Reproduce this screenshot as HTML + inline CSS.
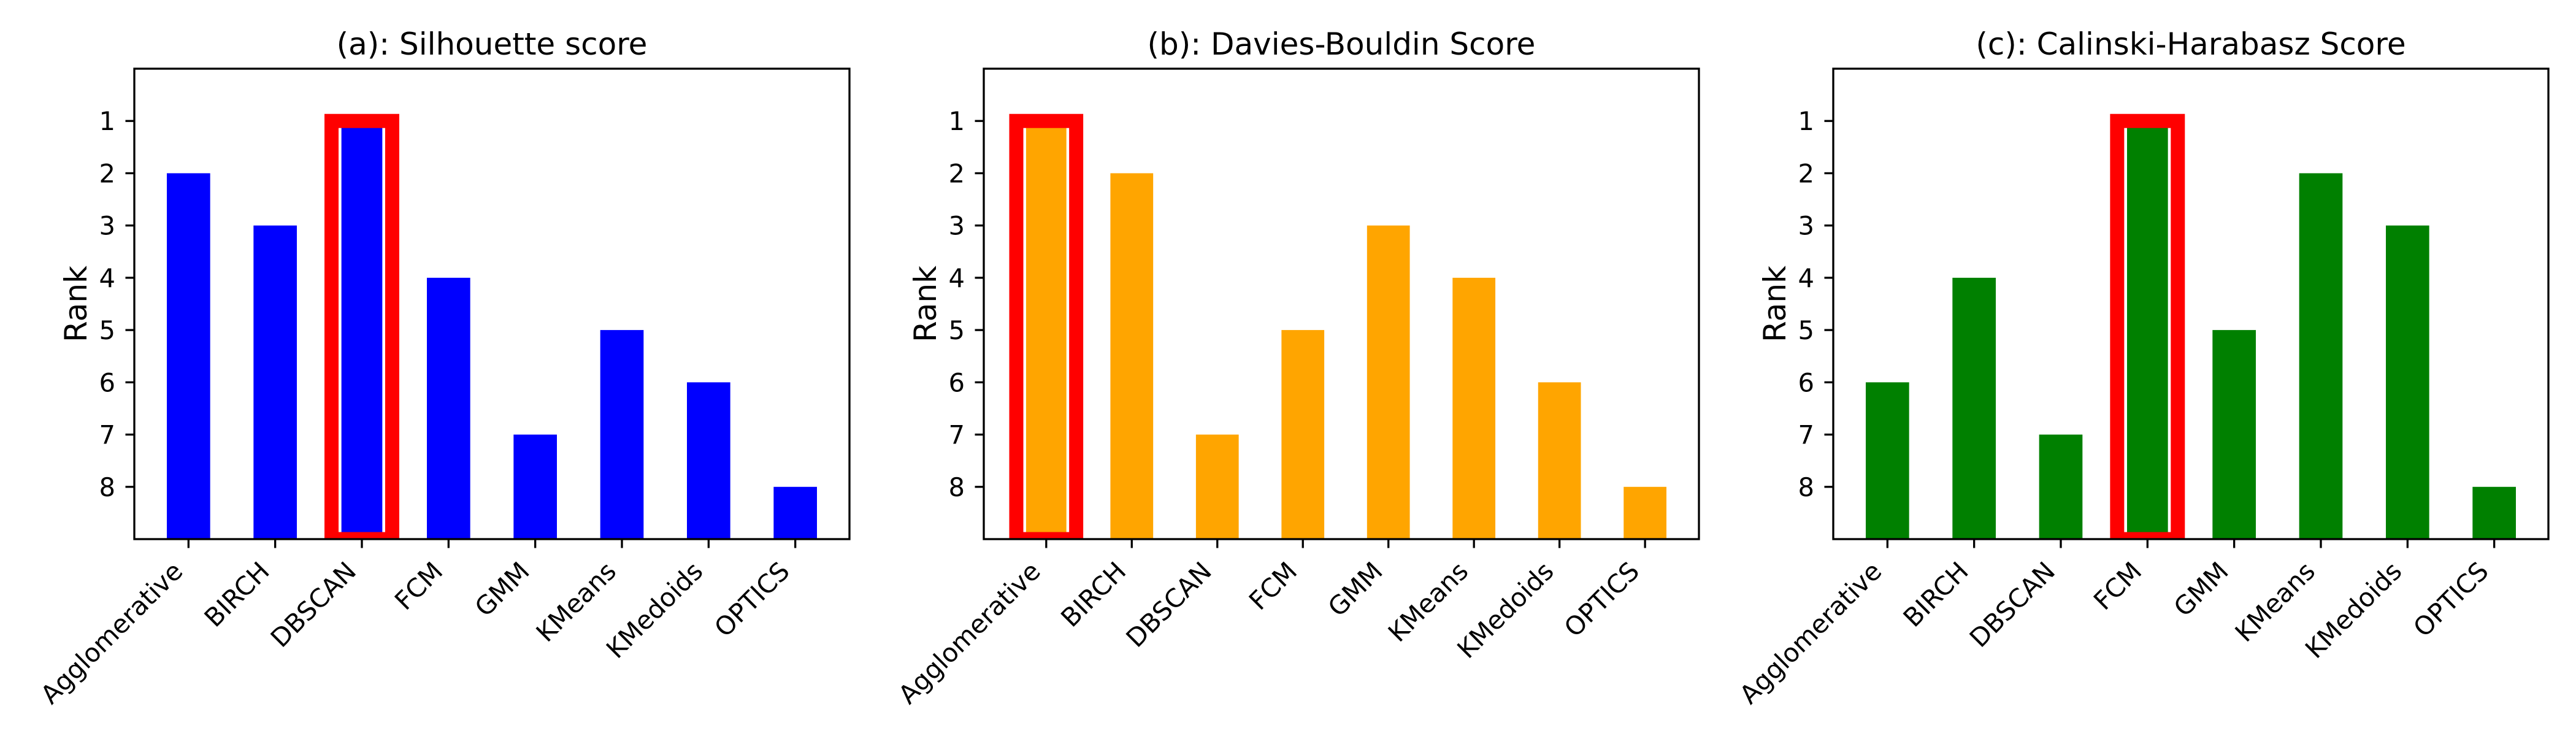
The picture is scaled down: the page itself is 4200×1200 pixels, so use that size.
<!DOCTYPE html>
<html><head><meta charset="utf-8">
<style>
html,body{margin:0;padding:0;background:#fff;}
svg{display:block;}
text{font-family:"DejaVu Sans","Liberation Sans",sans-serif;fill:#000;}
</style></head>
<body>
<svg id="chart" width="4200" height="1200" viewBox="0 0 4200 1200" xmlns="http://www.w3.org/2000/svg"></svg>
<script>
const categories = ["Agglomerative","BIRCH","DBSCAN","FCM","GMM","KMeans","KMedoids","OPTICS"];
const silhouetteRanks = [2,3,1,4,7,5,6,8];
const daviesBouldinRanks = [1,2,7,5,3,4,6,8];
const calinskiRanks = [6,4,7,1,5,2,3,8];
const yTickLabels = [1,2,3,4,5,6,7,8];
const panelTitles = ["(a): Silhouette score","(b): Davies-Bouldin Score","(c): Calinski-Harabasz Score"];
const panelColors = ["#0000ff","#ffa500","#008000"];
const highlightIndex = [2,0,3];

const NS = "http://www.w3.org/2000/svg";
const svg = document.getElementById('chart');
function mk(tag, attrs, parent){
  const e = document.createElementNS(NS, tag);
  for (const k in attrs) e.setAttribute(k, attrs[k]);
  (parent||svg).appendChild(e);
  return e;
}
const AX_TOP = 112, AX_BOT = 879, AX_W = 1166, PANEL_STEP = 1385, AX_LEFT0 = 219;
const YMIN = 0, YMAX = 9;
function yScale(v){ return AX_TOP + (v - YMIN) / (YMAX - YMIN) * (AX_BOT - AX_TOP); }

const allRanks = [silhouetteRanks, daviesBouldinRanks, calinskiRanks];
const panelNames = ['silhouette','davies-bouldin','calinski-harabasz'];

allRanks.forEach((ranks, p) => {
  const left = AX_LEFT0 + p * PANEL_STEP, right = left + AX_W;
  const hi = highlightIndex[p];
  let dmin = Math.min(-0.25, hi - 0.35), dmax = Math.max(categories.length - 0.75, hi + 0.35);
  const m = 0.05 * (dmax - dmin);
  const xmin = dmin - m, xmax = dmax + m;
  const xScale = v => left + (v - xmin) / (xmax - xmin) * AX_W;
  const unit = AX_W / (xmax - xmin);

  const g = mk('g', {});
  
  

  const clipId = 'clip' + p;
  const cp = mk('clipPath', {id: clipId}, g);
  mk('rect', {x: left, y: AX_TOP, width: AX_W, height: AX_BOT - AX_TOP}, cp);

  const bars = mk('g', {'clip-path': 'url(#' + clipId + ')'}, g);
  
  
  ranks.forEach((r, i) => {
    const x0 = xScale(i - 0.25), x1 = xScale(i + 0.25);
    const b = mk('rect', {x: x0, y: yScale(r), width: x1 - x0, height: yScale(YMAX) - yScale(r), fill: panelColors[p]}, bars);
    if (i === hi) { b.setAttribute('stroke', '#fff'); b.setAttribute('stroke-width', '4'); }
    
    
  });
  // highlight rectangle
  const hx0 = xScale(hi - 0.35), hx1 = xScale(hi + 0.35);
  const hr = mk('rect', {x: hx0, y: yScale(ranks[hi]), width: hx1 - hx0, height: yScale(YMAX) - yScale(ranks[hi]), fill: 'none', stroke: '#ff0000', 'stroke-width': 23}, bars);
  
  

  // frame
  const fr = mk('rect', {x: left, y: AX_TOP, width: AX_W, height: AX_BOT - AX_TOP, fill: 'none', stroke: '#000', 'stroke-width': 3.3}, g);
  
  

  // y ticks
  yTickLabels.forEach(v => {
    const y = yScale(v);
    const t = mk('line', {x1: left - 14.5, x2: left, y1: y, y2: y, stroke: '#000', 'stroke-width': 3.3}, g);
    
    
    const tl = mk('text', {x: left - 31, y: y + 15, 'font-size': 41.7, 'text-anchor': 'end'}, g);
    tl.textContent = v;
    
    
  });
  // x ticks
  categories.forEach((c, i) => {
    const x = xScale(i);
    const t = mk('line', {x1: x, x2: x, y1: AX_BOT, y2: AX_BOT + 14.5, stroke: '#000', 'stroke-width': 3.3}, g);
    
    
    const bx = x - 7, by = AX_BOT + 55;
    const tl = mk('text', {x: bx, y: by, 'font-size': 41.7, 'text-anchor': 'end', transform: 'rotate(-45 ' + bx + ' ' + by + ')'}, g);
    tl.textContent = c;
    
    
  });
  // title
  const tt = mk('text', {x: left + AX_W / 2, y: 89, 'font-size': 50, 'text-anchor': 'middle'}, g);
  tt.textContent = panelTitles[p];
  
  
  // y label
  const yc = (AX_TOP + AX_BOT) / 2, yx = left - 78;
  const yl = mk('text', {x: yx, y: yc, 'font-size': 50, 'text-anchor': 'middle', transform: 'rotate(-90 ' + yx + ' ' + yc + ')'}, g);
  yl.textContent = 'Rank';
  
  
});
</script>
</body></html>
